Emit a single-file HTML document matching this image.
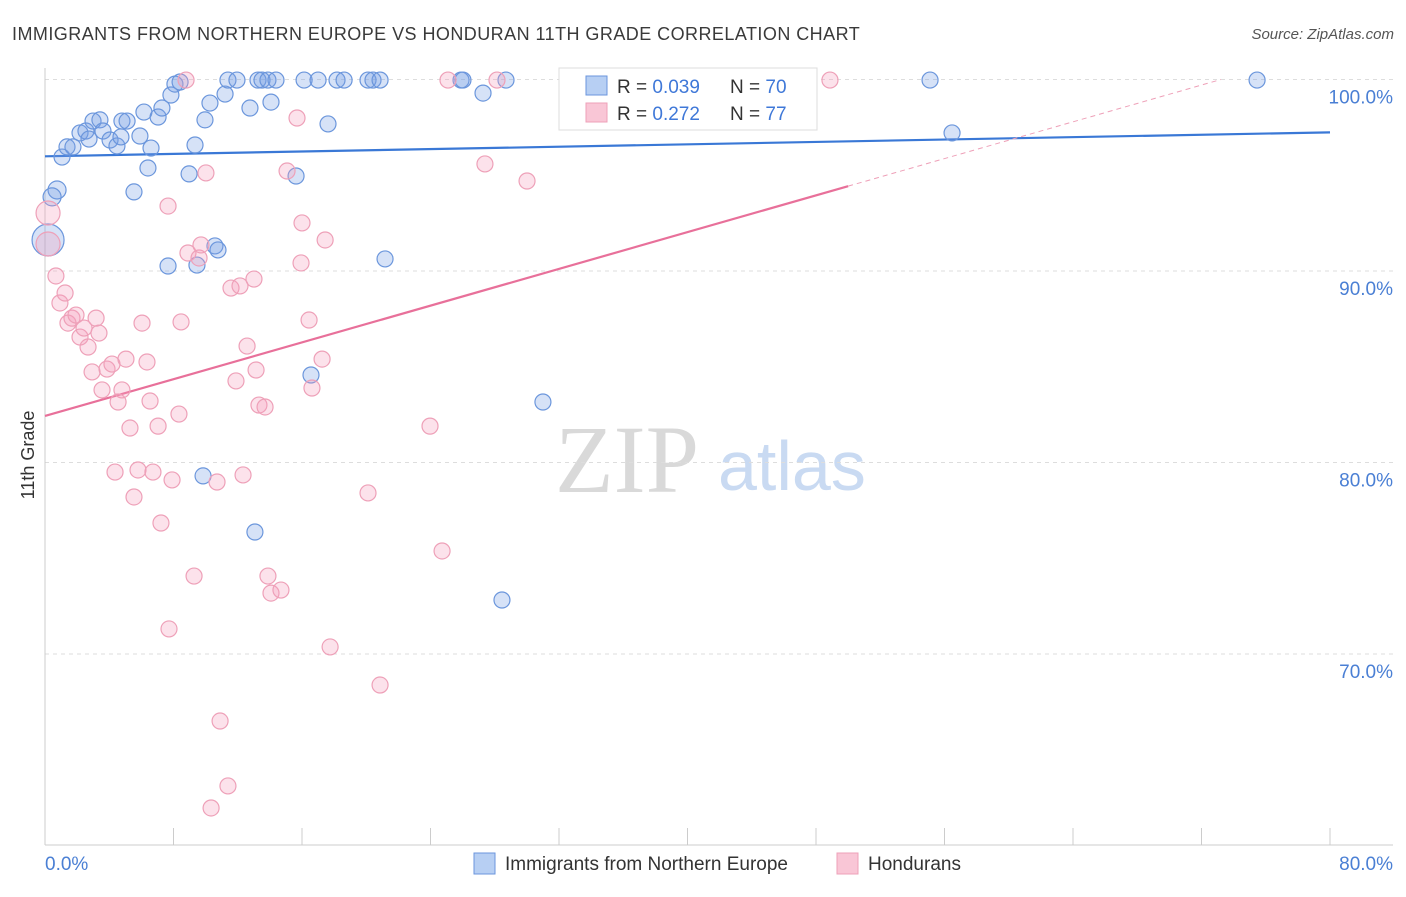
<!DOCTYPE html>
<html><head><meta charset="utf-8">
<style>
body{margin:0;background:#fff;width:1406px;height:892px;overflow:hidden;font-family:"Liberation Sans",sans-serif}
svg text{font-family:"Liberation Sans",sans-serif}
</style></head>
<body>
<svg id="chart" width="1406" height="892">
<text x="12" y="40" font-size="18" fill="#3a3a3a" letter-spacing="0.45">IMMIGRANTS FROM NORTHERN EUROPE VS HONDURAN 11TH GRADE CORRELATION CHART</text>
<text x="1394" y="39" font-size="15" fill="#555" font-style="italic" text-anchor="end">Source: ZipAtlas.com</text>
<text x="34" y="455" font-size="18" fill="#333" text-anchor="middle" transform="rotate(-90 34 455)">11th Grade</text>
<g>
<text x="555" y="492" font-size="96" fill="#d9d9d9" style="font-family:'Liberation Serif',serif">ZIP</text>
<text x="718" y="490" font-size="70" fill="#c9daf2">atlas</text>
</g>
<g id="grid"></g>
<g id="axes"></g>
<g id="trends"></g>
<g id="points"></g>
<g>
<rect x="559" y="68" width="258" height="62" fill="#fff" stroke="#ddd"/>
<rect x="586" y="76" width="21" height="19" fill="#b7cff3" stroke="#6b96dc"/>
<rect x="586" y="103" width="21" height="19" fill="#f9c6d6" stroke="#eea0b8"/>
<text x="617" y="93" font-size="19" fill="#333">R = <tspan fill="#3f78d8">0.039</tspan></text>
<text x="730" y="93" font-size="19" fill="#333">N = <tspan fill="#3f78d8">70</tspan></text>
<text x="617" y="120" font-size="19" fill="#333">R = <tspan fill="#3f78d8">0.272</tspan></text>
<text x="730" y="120" font-size="19" fill="#333">N = <tspan fill="#3f78d8">77</tspan></text>
</g>
<g>
<rect x="474" y="853" width="21" height="21" fill="#b7cff3" stroke="#6b96dc"/>
<text x="505" y="870" font-size="19" fill="#333">Immigrants from Northern Europe</text>
<rect x="837" y="853" width="21" height="21" fill="#f9c6d6" stroke="#eea0b8"/>
<text x="868" y="870" font-size="19" fill="#333">Hondurans</text>
</g>
</svg>
<script>
const yTicks=[100,90,80,70];
const xTickLabels=["0.0%","80.0%"];
const blueX=[0.75,0.44,0.19,1.06,1.37,1.74,2.18,2.55,2.74,2.99,3.42,3.61,4.05,4.48,4.79,5.11,4.73,5.54,5.91,6.16,6.41,6.60,7.04,7.28,7.66,7.84,8.09,8.41,8.97,9.34,9.46,9.96,10.27,10.58,10.77,11.21,11.39,11.95,12.76,13.26,13.51,13.88,14.07,14.38,15.63,16.13,16.56,17.0,17.62,18.18,18.62,20.11,20.42,20.86,21.17,25.90,26.02,27.27,28.45,28.70,31.0,33.0,55.1,56.47,75.46,9.84,13.07];
const blueY=[94.23,93.87,91.62,95.95,96.48,96.48,97.21,97.31,96.89,97.83,97.89,97.31,96.84,96.53,97.83,97.83,97.0,94.13,97.05,98.30,95.38,96.42,98.04,98.51,90.26,99.19,99.76,99.87,95.07,96.58,90.31,97.89,98.77,91.31,91.10,99.24,99.97,99.97,98.51,99.97,99.97,99.97,98.82,99.97,94.96,99.97,84.57,99.97,97.68,99.97,99.97,99.97,99.97,99.97,90.63,99.97,99.97,99.29,72.82,99.97,83.16,99.97,99.97,97.21,99.97,79.30,76.37];
const blueR=[9,9,16,8,8,8,8,8,8,8,8,8,8,8,8,8,8,8,8,8,8,8,8,8,8,8,8,8,8,8,8,8,8,8,8,8,8,8,8,8,8,8,8,8,8,8,8,8,8,8,8,8,8,8,8,8,8,8,8,8,8,8,8,8,8,8,8];
const pinkX=[0.19,0.19,0.68,0.93,1.25,1.43,1.68,1.93,2.18,2.43,2.68,2.93,3.18,3.36,3.55,3.86,4.17,4.36,4.55,4.79,5.04,5.29,5.54,5.79,6.04,6.35,6.54,6.72,7.04,7.22,7.66,7.72,7.91,8.34,8.47,8.78,8.90,9.28,9.59,9.71,10.02,10.71,10.90,11.39,10.34,11.58,11.89,12.14,12.33,12.58,13.01,13.14,13.32,13.70,13.88,14.07,14.69,15.07,15.69,15.94,16.0,16.44,16.62,17.25,17.44,17.75,20.11,20.86,23.97,24.72,25.09,27.39,28.14,30.01,41.65,48.87];
const pinkY=[93.03,91.41,89.74,88.33,88.85,87.28,87.54,87.70,86.55,87.02,86.03,84.73,87.54,86.76,83.79,84.88,85.14,79.50,83.16,83.79,85.40,81.80,78.20,79.61,87.28,85.25,83.21,79.50,81.90,76.84,93.39,71.31,79.09,82.53,87.34,99.97,90.94,74.07,90.68,91.36,95.12,78.98,66.50,63.11,61.96,89.11,84.26,89.22,79.35,86.08,89.58,84.83,83.0,82.90,74.07,73.18,73.34,95.22,97.99,90.42,92.51,87.44,83.89,85.40,91.62,70.37,78.41,68.38,81.90,75.38,99.97,95.59,99.97,94.70,99.97,99.97];
const blueTrend=[95.99,97.24];
const pinkTrend=[82.43,0.24];
const NS="http://www.w3.org/2000/svg";
const X0=45,X1=1330,YTOP=79.5,PXPER=19.15,YBOT=845;
function sx(v){return X0+(X1-X0)*v/80;}
function sy(v){return YTOP+(100-v)*PXPER;}
function mk(tag,attrs,parent){const e=document.createElementNS(NS,tag);for(const k in attrs)e.setAttribute(k,attrs[k]);document.getElementById(parent).appendChild(e);return e;}
yTicks.forEach(t=>{
 const l=mk('line',{x1:X0,x2:1393,y1:sy(t),y2:sy(t),stroke:'#ddd','stroke-dasharray':'4,4'},'grid');
 
 
 const tx=mk('text',{x:1393,y:sy(t)+24,'font-size':19,fill:'#4a7fd4','text-anchor':'end'},'grid');
 tx.textContent=t.toFixed(1)+'%';
 
 
});
const ax=mk('line',{x1:X0,x2:X0,y1:68,y2:YBOT,stroke:'#ccc'},'axes');


const bx=mk('line',{x1:X0,x2:1393,y1:YBOT,y2:YBOT,stroke:'#ccc'},'axes');


for(let i=0;i<=10;i++){
 const t=mk('line',{x1:sx(i*8),x2:sx(i*8),y1:828,y2:YBOT,stroke:'#ccc'},'axes');
 
 
}
const xl0=mk('text',{x:45,y:870,'font-size':19,fill:'#4a7fd4'},'axes');xl0.textContent=xTickLabels[0];


const xl1=mk('text',{x:1393,y:870,'font-size':19,fill:'#4a7fd4','text-anchor':'end'},'axes');xl1.textContent=xTickLabels[1];


blueX.forEach((x,i)=>{
 const c=mk('circle',{cx:sx(x),cy:sy(blueY[i]),r:blueR[i],fill:'rgba(120,160,230,0.3)',stroke:'#6b96dc','stroke-width':1.2},'points');
 
 
});
pinkX.forEach((x,i)=>{
 const c=mk('circle',{cx:sx(x),cy:sy(pinkY[i]),r:i<2?12:8,fill:'rgba(244,160,190,0.3)',stroke:'#eea0b8','stroke-width':1.2},'points');
 
 
});
const bl=mk('line',{x1:sx(0),y1:sy(blueTrend[0]),x2:sx(80),y2:sy(blueTrend[1]),stroke:'#3a78d6','stroke-width':2.2},'trends');


const pEnd=50, pTop=(100-pinkTrend[0])/pinkTrend[1];
const pl=mk('line',{x1:sx(0),y1:sy(pinkTrend[0]),x2:sx(pEnd),y2:sy(pinkTrend[0]+pinkTrend[1]*pEnd),stroke:'#e8709a','stroke-width':2.2},'trends');


const pd=mk('line',{x1:sx(pEnd),y1:sy(pinkTrend[0]+pinkTrend[1]*pEnd),x2:sx(pTop),y2:sy(100),stroke:'#eea0b8','stroke-width':1,'stroke-dasharray':'5,4'},'trends');


</script>
</body></html>
